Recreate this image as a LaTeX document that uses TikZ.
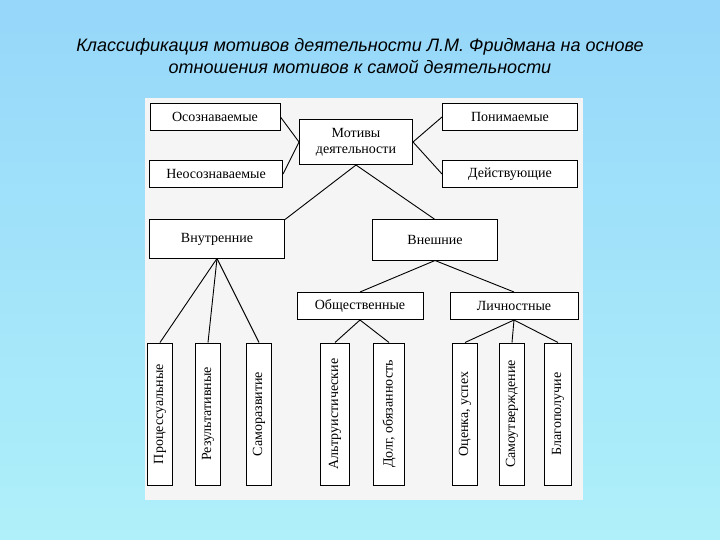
\documentclass[tikz,border=0pt]{standalone}
\usepackage{fontspec}
\newfontfamily\titlefont{Liberation Sans}
\setmainfont{Liberation Serif}
\usetikzlibrary{positioning}
\tikzset{box/.style={draw,line width=1pt,fill=white,inner sep=2pt,font=\fontsize{14}{16}\selectfont},
	vbox/.style={box,rotate=90,minimum width=142pt,minimum height=25pt},
	link/.style={line width=0.9pt}}
\begin{document}
\begin{tikzpicture}[x=1pt,y=-1pt]
	\useasboundingbox (0,0) rectangle (720,540);
	\shade[top color={rgb,255:red,150;green,215;blue,250},bottom color={rgb,255:red,175;green,240;blue,250}] (0,0) rectangle (720,540);
	\node[font=\titlefont\itshape\fontsize{18}{22}\selectfont,align=center] (title) at (360,56) {Классификация мотивов деятельности Л.М. Фридмана на основе\\ отношения мотивов к самой деятельности};
	\fill[gray!8] (145,98) rectangle (583,500);

	% top row
	\node[box,minimum width=113pt,minimum height=45pt] (mot) at (356,142) {};
	\node[font=\fontsize{14}{16}\selectfont,align=center] (motl) at (mot) {Мотивы\\деятельности};
	\node[box,minimum width=130pt,minimum height=27pt] (osoz) at (215,117) {Осознаваемые};
	\node[box,minimum width=133pt,minimum height=27pt] (neos) at (216,174) {Неосознаваемые};
	\node[box,minimum width=135pt,minimum height=27pt] (pon) at (510,117) {Понимаемые};
	\node[box,minimum width=135pt,minimum height=27pt] (dey) at (510,174) {Действующие};
	\draw[link] (mot.west) -- (osoz.east);
	\draw[link] (mot.west) -- (neos.east);
	\draw[link] (mot.east) -- (pon.west);
	\draw[link] (mot.east) -- (dey.west);

	% second row
	\node[box,minimum width=135pt,minimum height=38pt] (vnut) at (217,239) {Внутренние};
	\node[box,minimum width=125pt,minimum height=40pt] (vnesh) at (435,240) {Внешние};
	\draw[link] (mot.south) -- (vnut.north east);
	\draw[link] (mot.south) -- (vnesh.north);

	% third row
	\node[box,minimum width=126pt,minimum height=27pt] (obsh) at (360,306) {Общественные};
	\node[box,minimum width=128pt,minimum height=27pt] (lich) at (514,306) {Личностные};
	\draw[link] (vnesh.south) -- (obsh.north);
	\draw[link] (vnesh.south) -- (lich.north);

	% vertical boxes
	\node[vbox] (proc) at (160,414) {Процессуальные};
	\node[vbox] (rez) at (208,414) {Результативные};
	\node[vbox] (sam) at (259,414) {Саморазвитие};
	\node[vbox,minimum height=29pt] (alt) at (335,414) {Альтруистические};
	\node[vbox,minimum height=31pt] (dolg) at (389,414) {Долг, обязанность};
	\node[vbox] (ocen) at (465,414) {Оценка, успех};
	\node[vbox] (samu) at (512,414) {Самоутверждение};
	\node[vbox,minimum height=27pt] (blag) at (558,414) {Благополучие};
	\draw[link] (vnut.south) -- (proc.east);
	\draw[link] (vnut.south) -- (rez.east);
	\draw[link] (vnut.south) -- (sam.east);
	\draw[link] (obsh.south) -- (alt.east);
	\draw[link] (obsh.south) -- (dolg.east);
	\draw[link] (lich.south) -- (ocen.east);
	\draw[link] (lich.south) -- (samu.east);
	\draw[link] (lich.south) -- (blag.east);
\end{tikzpicture}
\end{document}
